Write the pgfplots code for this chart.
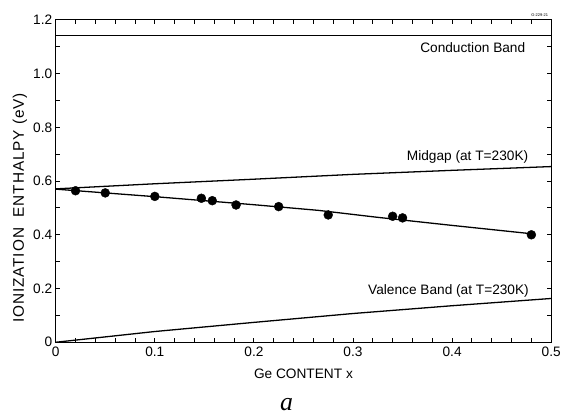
\documentclass[border=0pt]{standalone}
\usepackage{fontspec}
\setmainfont{Liberation Sans}
\newfontfamily\serifit{Liberation Serif}
\usepackage{pgfplots}
\pgfplotsset{compat=1.18}
\begin{document}
\begin{tikzpicture}
\begin{axis}[
  scale only axis, width=498bp, height=324bp,
  xmin=0, xmax=0.5, ymin=0, ymax=1.2,
  xtick={0,0.1,0.2,0.3,0.4,0.5},
  xticklabels={0,0.1,0.2,0.3,0.4,0.5},
  ytick={0,0.2,0.4,0.6,0.8,1.0,1.2},
  yticklabels={0,0.2,0.4,0.6,0.8,1.0,1.2},
  minor x tick num=4, minor y tick num=1,
  major tick length=4.5bp, minor tick length=4.5bp,
  tick style={line width=0.9pt, black},
  axis line style={line width=1.2pt},
  tick label style={font=\fontsize{13.8}{16}\selectfont},
  /pgf/number format/assume math mode=true,
  xticklabel style={yshift=-1bp},
  clip=false,
]
\addplot[black, line width=1.3pt] coordinates {(0,1.143) (0.5,1.143)};
\addplot[black, line width=1.3pt] coordinates {(0,0.571) (0.1,0.590) (0.2,0.607) (0.3,0.625) (0.4,0.640) (0.5,0.654)};
\addplot[black, line width=1.3pt] coordinates {(0,0) (0.1,0.040) (0.2,0.074) (0.3,0.107) (0.4,0.136) (0.5,0.163)};
\addplot[black, line width=1.3pt] coordinates {(0,0.570) (0.1,0.542) (0.2,0.512) (0.265,0.491) (0.325,0.465) (0.4,0.435) (0.48,0.404)};
\addplot[only marks, mark=*, mark size=4.5bp, black] coordinates {
 (0.020,0.564) (0.050,0.556) (0.100,0.543) (0.147,0.536) (0.158,0.527)
 (0.182,0.511) (0.225,0.505) (0.275,0.474) (0.340,0.469) (0.350,0.463) (0.480,0.400)};
\node[anchor=base east, inner sep=0pt, font=\fontsize{13.8}{16}\selectfont] at (axis cs:0.474,1.080) {Conduction Band};
\node[anchor=base east, inner sep=0pt, font=\fontsize{13.8}{16}\selectfont] at (axis cs:0.477,0.675) {Midgap (at T=230K)};
\node[anchor=base east, inner sep=0pt, font=\fontsize{13.8}{16}\selectfont] at (axis cs:0.4776,0.178) {Valence Band (at T=230K)};
\node[anchor=base, inner sep=0pt, font=\fontsize{13.8}{16}\selectfont] at (axis cs:0.25,-0.1356) {Ge CONTENT x};
\node[anchor=south east, inner sep=0pt, font=\fontsize{4}{4}\selectfont] at (axis cs:0.497,1.21) {G-229-21};
\node[anchor=base, inner sep=0pt, font=\fontsize{26}{28}\serifit\itshape] at (axis cs:0.2329,-0.2548) {a};
\node[rotate=90, anchor=base, inner sep=0pt, font=\fontsize{15.5}{17}\selectfont\addfontfeature{LetterSpace=6}] at (axis cs:-0.0321,0.5) {IONIZATION\ \ ENTHALPY (eV)};
\end{axis}
\path (current axis.south west) ++(-56bp,-73bp) rectangle ++(564bp,417bp);
\end{tikzpicture}
\end{document}
